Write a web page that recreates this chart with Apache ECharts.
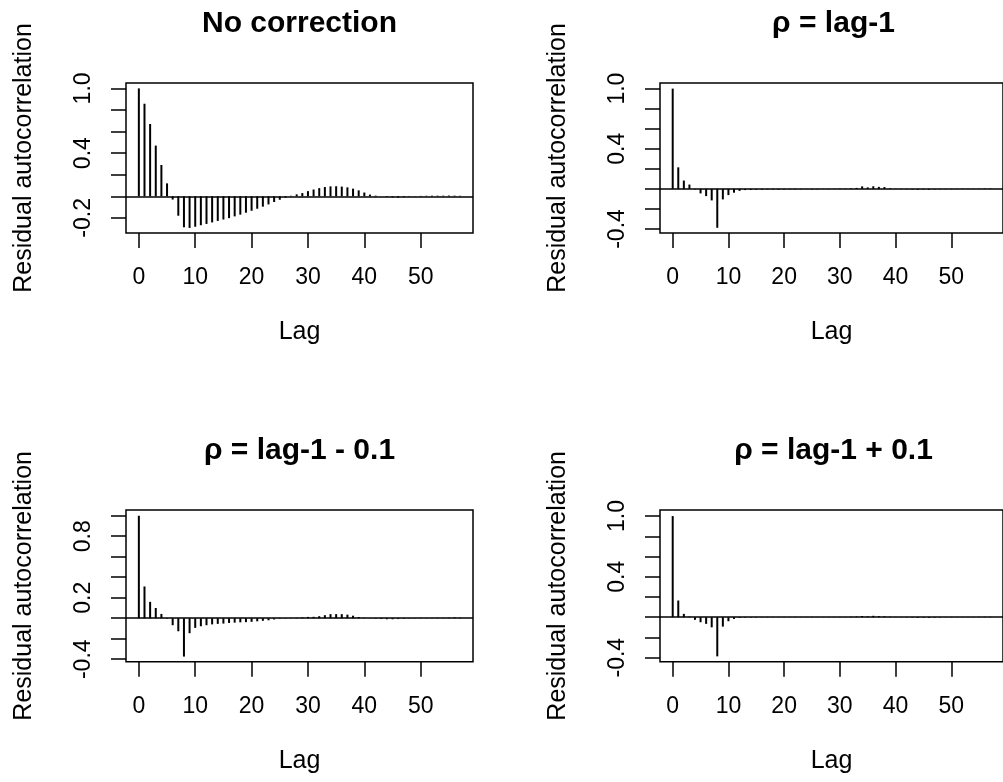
<!DOCTYPE html>
<html><head><meta charset="utf-8">
<script src="https://cdn.jsdelivr.net/npm/echarts@6/dist/echarts.min.js"></script>
<style>html,body{margin:0;padding:0;background:#fff}#c{width:1003px;height:782px}</style>
</head><body><div id="c"></div>
<script>
// ---- data ----
const lags = [0,1,2,3,4,5,6,7,8,9,10,11,12,13,14,15,16,17,18,19,20,21,22,23,24,25,26,27,28,29,
  30,31,32,33,34,35,36,37,38,39,40,41,42,43,44,45,46,47,48,49,50,51,52,53,54,55,56,57];

const noCorrection = [1.0,0.858,0.67,0.47,0.29,0.12,-0.03,-0.18,-0.287,-0.293,
  -0.282,-0.268,-0.256,-0.242,-0.228,-0.215,-0.202,-0.186,-0.17,-0.152,
  -0.134,-0.115,-0.096,-0.075,-0.053,-0.032,-0.012,0.005,0.018,0.03,
  0.048,0.063,0.076,0.086,0.092,0.093,0.09,0.083,0.071,0.055,
  0.035,0.016,0.006,0.0,-0.006,-0.01,-0.012,-0.008,-0.004,0.002,
  0.004,0.005,0.006,0.006,0.006,0.007,0.006,0.005];

const rhoLag1 = [1.0,0.215,0.083,0.043,-0.005,-0.045,-0.072,-0.115,-0.388,-0.105,
  -0.062,-0.038,-0.02,-0.012,-0.01,-0.008,-0.008,-0.006,-0.006,-0.008,
  -0.006,-0.004,-0.005,-0.004,-0.003,-0.005,-0.004,-0.002,-0.003,0.002,
  0.004,0.003,0.006,0.01,0.025,0.015,0.026,0.02,0.018,0.006,
  0.002,-0.003,-0.004,-0.006,-0.008,-0.006,-0.008,-0.005,-0.004,-0.003,
  -0.003,0.002,0.003,-0.002,0.002,0.003,0.004,0.005];

const rhoLag1Minus = [1.0,0.31,0.16,0.10,0.042,-0.005,-0.068,-0.127,-0.374,-0.146,
  -0.094,-0.078,-0.068,-0.06,-0.055,-0.052,-0.046,-0.043,-0.04,-0.038,
  -0.035,-0.03,-0.025,-0.02,-0.012,-0.006,-0.003,0.002,0.004,0.008,
  0.013,0.014,0.02,0.03,0.04,0.04,0.04,0.035,0.025,0.012,
  0.004,-0.002,-0.005,-0.008,-0.01,-0.01,-0.008,-0.006,-0.003,0.002,
  0.003,-0.002,0.003,0.004,0.003,0.005,0.008,0.006];

const rhoLag1Plus = [1.0,0.165,0.033,0.006,-0.026,-0.05,-0.066,-0.1,-0.387,-0.093,
  -0.04,-0.017,-0.008,-0.005,-0.004,-0.004,-0.003,-0.004,-0.003,-0.002,
  -0.003,-0.002,-0.003,-0.002,-0.002,-0.003,-0.002,0.002,-0.002,0.002,
  0.003,0.002,0.004,0.006,0.012,0.008,0.014,0.01,0.008,0.004,
  0.002,-0.002,-0.003,-0.005,-0.008,-0.006,-0.008,-0.006,-0.004,-0.002,
  -0.003,0.002,-0.002,0.002,0.002,0.003,0.004,0.004];

const titles = ["No correction", "\u03C1 = lag-1", "\u03C1 = lag-1 - 0.1", "\u03C1 = lag-1 + 0.1"];
const xTicks = [0, 10, 20, 30, 40, 50];
const yTicksA = [-0.2, 0.0, 0.2, 0.4, 0.6, 0.8, 1.0];
const yTicksB = [-0.4, -0.2, 0.0, 0.2, 0.4, 0.6, 0.8, 1.0];
const yLabelsA = [-0.2, 0.4, 1.0];
const yLabelsB = [-0.4, 0.4, 1.0];
const yLabelsC = [-0.4, 0.2, 0.8];
const xName = "Lag";
const yName = "Residual autocorrelation";

// ---- layout ----
const FONT = '"Liberation Sans", Arial, Helvetica, sans-serif';
const panels = [
  {vals: noCorrection, ticks: yTicksA, labels: yLabelsA, left: 126, top: 83, h: 150, ymin: -0.34, ymax: 1.05},
  {vals: rhoLag1, ticks: yTicksB, labels: yLabelsB, left: 660, top: 83, h: 150, ymin: -0.44, ymax: 1.056},
  {vals: rhoLag1Minus, ticks: yTicksB, labels: yLabelsC, left: 126, top: 510, h: 151.7, ymin: -0.424, ymax: 1.056},
  {vals: rhoLag1Plus, ticks: yTicksB, labels: yLabelsB, left: 660, top: 510, h: 151.7, ymin: -0.44, ymax: 1.06}
];
const W = 347;

const grid = [], xAxis = [], yAxis = [], series = [], graphic = [];
panels.forEach((p, i) => {
  grid.push({left: p.left, top: p.top, width: W, height: p.h, show: true,
    borderColor: '#000', borderWidth: 1.5, backgroundColor: 'transparent', containLabel: false});
  xAxis.push({type: 'value', gridIndex: i, min: -2.28, max: 59.28, position: 'bottom',
    axisLine: {show: false, onZero: false},
    axisTick: {show: true, inside: false, length: 15, customValues: xTicks, lineStyle: {color: '#000', width: 1.5}},
    axisLabel: {show: true, customValues: xTicks, margin: 33, color: '#000', fontSize: 23, fontFamily: FONT},
    splitLine: {show: false},
    name: xName, nameLocation: 'middle', nameGap: 87,
    nameTextStyle: {color: '#000', fontSize: 25, fontFamily: FONT}});
  yAxis.push({type: 'value', gridIndex: i, min: p.ymin, max: p.ymax, position: 'left',
    axisLine: {show: false, onZero: false},
    axisTick: {show: true, inside: false, length: 15, customValues: p.ticks, lineStyle: {color: '#000', width: 1.5}},
    axisLabel: {show: true, customValues: p.labels, rotate: 90, margin: 31, color: '#000', fontSize: 23, fontFamily: FONT,
      formatter: v => Number(v).toFixed(1)},
    splitLine: {show: false},
    name: yName, nameLocation: 'middle', nameGap: 89,
    nameTextStyle: {color: '#000', fontSize: 25, fontFamily: FONT}});
  series.push({type: 'bar', xAxisIndex: i, yAxisIndex: i, barWidth: 2,
    itemStyle: {color: '#000'}, silent: true,
    data: lags.map((l, k) => [l, p.vals[k]]),
    markLine: {silent: true, symbol: ['none', 'none'], label: {show: false},
      lineStyle: {color: '#000', width: 1.5, type: 'solid'}, data: [{yAxis: 0}]}});
  graphic.push({type: 'text', x: p.left + W / 2, y: p.top - 59,
    style: {text: titles[i], font: 'bold 30px ' + FONT, fill: '#000', textAlign: 'center', textVerticalAlign: 'middle'}});
});

const chart = echarts.init(document.getElementById('c'), null, {renderer: 'canvas'});
chart.setOption({animation: false, backgroundColor: '#fff', grid, xAxis, yAxis, series, graphic});
</script>
</body></html>
